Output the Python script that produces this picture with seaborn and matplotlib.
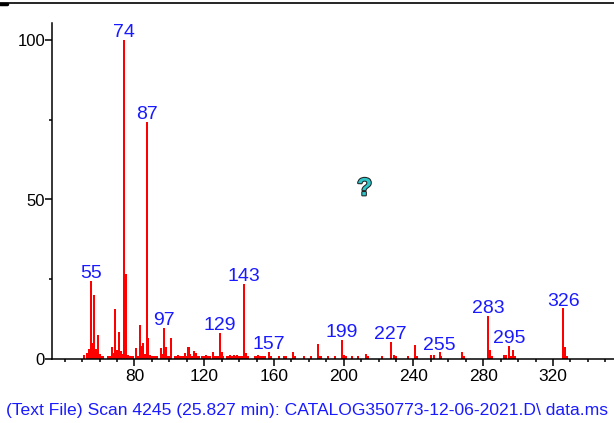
import matplotlib
matplotlib.use("Agg")
import matplotlib.pyplot as plt
import matplotlib.patheffects as pe
from matplotlib.lines import Line2D
from matplotlib.ticker import MultipleLocator
import seaborn as sns
import pandas as pd

mz = [51, 53, 54, 55, 56, 57, 58, 59, 60, 61, 62, 65, 66, 67, 68, 69, 70, 71, 72, 73,
      74, 75, 76, 77, 78, 79, 81, 82, 83, 84, 85, 86, 87, 88, 89, 90, 91, 92, 93, 95,
      96, 97, 98, 99, 100, 101, 103, 104, 105, 106, 107, 108, 109, 110, 111, 112, 113,
      114, 115, 116, 117, 119, 120, 121, 122, 123, 125, 126, 127, 128, 129, 130, 131,
      133, 134, 135, 136, 137, 138, 139, 140, 141, 142, 143, 144, 145, 149, 150, 151,
      152, 153, 154, 155, 157, 158, 163, 166, 167, 171, 172, 177, 181, 185, 186, 187,
      191, 195, 199, 200, 201, 205, 208, 213, 214, 222, 227, 229, 230, 237, 241, 242,
      250, 252, 255, 256, 268, 269, 283, 284, 285, 292, 293, 295, 296, 297, 298, 326,
      327, 328]
intensity = [1.2, 2, 3, 24.5, 5, 20, 3, 7.5, 1.5, 1, 1, 1, 1, 3.8, 2, 15.6, 2.9, 8.6, 2.5, 1.5,
             100, 26.8, 1.2, 1, 1, 1, 3.5, 1, 10.6, 4, 5, 1.5, 74.3, 6.5, 1.2, 1, 1, 1, 1, 3.3,
             1.5, 9.7, 3.9, 1, 1, 6.5, 1, 1, 1.2, 1, 1, 1, 1.9, 1, 3.8, 1.5, 1,
             2.6, 1.8, 1, 1, 1, 1, 1.2, 1, 1, 2.2, 1, 1, 1, 8.1, 2.2, 1,
             1, 1, 1.2, 1, 1.2, 1, 1.2, 1, 1, 1, 23.5, 2, 1, 1, 1, 1.2,
             1, 1, 1, 1, 2.3, 1, 1, 1, 1, 2.2, 1, 1, 1, 4.7, 1, 1,
             1, 1, 6.0, 1.2, 1, 1, 1, 1.7, 1, 1, 5.3, 1.3, 1, 1, 4.3, 1,
             1.2, 1.2, 2.1, 1, 2.1, 1, 13.4, 2.8, 1, 1.2, 1.2, 4.2, 1, 2.8, 1, 15.9,
             3.8, 1]
labeled_mz = [55, 74, 87, 97, 129, 143, 157, 199, 227, 255, 283, 295, 326]
x_ticks = [80, 120, 160, 200, 240, 280, 320]
y_ticks = [0, 50, 100]
footer = "(Text File) Scan 4245 (25.827 min): CATALOG350773-12-06-2021.D\\ data.ms"

sns.set_style("ticks")
plt.rcParams['font.family'] = ['Liberation Sans', 'DejaVu Sans']

df = pd.DataFrame({"mz": mz, "intensity": intensity})

fig = plt.figure(figsize=(6.14, 4.23), dpi=100)
ax = fig.add_axes([52/614, 1-359/423, (614-52)/614, (359-23)/423])

sns.barplot(data=df, x="mz", y="intensity", native_scale=True, width=1.2,
            color="#ff0000", saturation=1, linewidth=0, ax=ax)

ax.set_xlim(32.7, 355)
ax.set_ylim(0, (359-23)/3.19)
ax.set_xlabel("")
ax.set_ylabel("")
ax.set_xticks(x_ticks)
ax.set_yticks(y_ticks)
ax.xaxis.set_minor_locator(MultipleLocator(10))
ax.yaxis.set_minor_locator(MultipleLocator(25))
ax.tick_params(axis='both', which='major', length=5, width=1.1, labelsize=12.5, pad=2, color='black', labelcolor='black')
ax.tick_params(axis='both', which='minor', length=2.5, width=1.1, color='black')
ax.tick_params(axis='y', labelsize=12, pad=0)
for s in ["top", "right"]:
    ax.spines[s].set_visible(False)
for s in ["left", "bottom"]:
    ax.spines[s].set_linewidth(1.1)
    ax.spines[s].set_color('black')

lookup = dict(zip(mz, intensity))
for m in labeled_mz:
    ax.annotate(str(m), xy=(m, lookup[m]), xytext=(0, 2), textcoords="offset points",
                ha="center", va="baseline", fontsize=14, color="#1a1aff")

q = ax.text(212, 53.5, "?", ha="center", va="center", fontsize=18, fontweight="bold",
            color="#2ec4c8")
q.set_path_effects([pe.withStroke(linewidth=1.5, foreground="#222222")])

fig.text(0.5, 1-410/423, footer, ha="center", va="center", fontsize=12.6, color="#1a1aff")

fig.add_artist(Line2D([0, 1], [1-3.5/423, 1-3.5/423], transform=fig.transFigure,
                      color="black", linewidth=1.2))
fig.add_artist(Line2D([0, 7/614], [1-4/423, 1-4/423], transform=fig.transFigure,
                      color="black", linewidth=2.5))

fig.savefig("out.png", dpi=100)
